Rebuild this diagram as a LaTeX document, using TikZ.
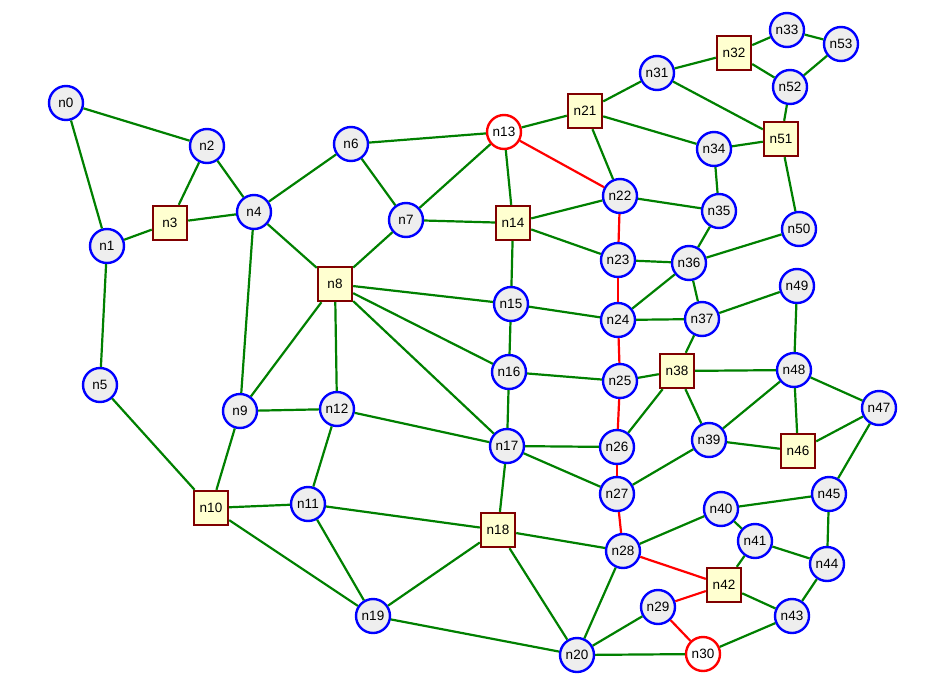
\documentclass[tikz,border=0pt]{standalone}
\usepackage{fontspec}
\setmainfont{Liberation Sans}
\definecolor{cfill}{HTML}{EEEEEE}
\definecolor{sfill}{HTML}{FFFFD0}
\definecolor{sdraw}{HTML}{800000}
\definecolor{egreen}{HTML}{008000}
\definecolor{ered}{HTML}{FF0000}
\definecolor{cblue}{HTML}{0000FF}
\begin{document}
\begin{tikzpicture}[x=1pt,y=-1pt,
  cnode/.style={circle,draw=cblue,fill=cfill,line width=2.4pt,minimum size=34pt,inner sep=0pt,font=\fontsize{13.5}{14}\selectfont},
  rnode/.style={circle,draw=ered,fill=white,line width=2.4pt,minimum size=34pt,inner sep=0pt,font=\fontsize{13.5}{14}\selectfont},
  snode/.style={rectangle,draw=sdraw,fill=sfill,line width=2.4pt,minimum size=34pt,inner sep=0pt,font=\fontsize{13.5}{14}\selectfont},
  ge/.style={draw=egreen,line width=2.2pt},
  re/.style={draw=ered,line width=2.2pt}]
\useasboundingbox (0,0) rectangle (932,696);
\node[cnode] (n0) at (66,103) {n0};
\node[cnode] (n1) at (107,246) {n1};
\node[cnode] (n2) at (207,146) {n2};
\node[snode] (n3) at (170,223) {n3};
\node[cnode] (n4) at (254,212) {n4};
\node[cnode] (n5) at (100,385) {n5};
\node[cnode] (n6) at (351,144) {n6};
\node[cnode] (n7) at (406,220) {n7};
\node[snode] (n8) at (335,284) {n8};
\node[cnode] (n9) at (240,411) {n9};
\node[snode] (n10) at (211,508) {n10};
\node[cnode] (n11) at (308,504) {n11};
\node[cnode] (n12) at (337,409) {n12};
\node[rnode] (n13) at (504,132) {n13};
\node[snode] (n14) at (513,223) {n14};
\node[cnode] (n15) at (511,304) {n15};
\node[cnode] (n16) at (509,372) {n16};
\node[cnode] (n17) at (507,446) {n17};
\node[snode] (n18) at (498,530) {n18};
\node[cnode] (n19) at (373,616) {n19};
\node[cnode] (n20) at (577,655) {n20};
\node[snode] (n21) at (585,111) {n21};
\node[cnode] (n22) at (620,196) {n22};
\node[cnode] (n23) at (618,260) {n23};
\node[cnode] (n24) at (618,320) {n24};
\node[cnode] (n25) at (620,381) {n25};
\node[cnode] (n26) at (617,447) {n26};
\node[cnode] (n27) at (617,494) {n27};
\node[cnode] (n28) at (623,551) {n28};
\node[cnode] (n29) at (658,607) {n29};
\node[rnode] (n30) at (703,654) {n30};
\node[cnode] (n31) at (657,73) {n31};
\node[snode] (n32) at (734,53) {n32};
\node[cnode] (n33) at (787,30) {n33};
\node[cnode] (n34) at (714,149) {n34};
\node[cnode] (n35) at (719,211) {n35};
\node[cnode] (n36) at (689,263) {n36};
\node[cnode] (n37) at (702,319) {n37};
\node[snode] (n38) at (677,371) {n38};
\node[cnode] (n39) at (709,440) {n39};
\node[cnode] (n40) at (721,509) {n40};
\node[cnode] (n41) at (755,541) {n41};
\node[snode] (n42) at (724,585) {n42};
\node[cnode] (n43) at (792,616) {n43};
\node[cnode] (n44) at (827,564) {n44};
\node[cnode] (n45) at (829,494) {n45};
\node[snode] (n46) at (798,451) {n46};
\node[cnode] (n47) at (879,408) {n47};
\node[cnode] (n48) at (794,370) {n48};
\node[cnode] (n49) at (797,286) {n49};
\node[cnode] (n50) at (799,229) {n50};
\node[snode] (n51) at (781,139) {n51};
\node[cnode] (n52) at (790,87) {n52};
\node[cnode] (n53) at (841,44) {n53};
\foreach \a/\b in {n0/n2,n0/n1,n1/n3,n1/n5,n2/n3,n2/n4,n3/n4,n4/n6,n4/n8,n4/n9,n5/n10,
  n6/n13,n6/n7,n7/n13,n7/n14,n7/n8,n8/n15,n8/n16,n8/n17,n8/n12,n8/n9,n9/n12,n9/n10,
  n10/n11,n10/n19,n11/n12,n11/n18,n11/n19,n12/n17,n13/n21,n13/n14,n14/n22,n14/n23,
  n14/n15,n15/n16,n15/n24,n16/n17,n16/n25,n17/n18,n17/n26,n17/n27,n18/n19,n18/n28,
  n18/n20,n19/n20,n20/n28,n20/n29,n20/n30,n21/n31,n21/n22,n21/n34,n22/n35,n23/n36,
  n24/n36,n24/n37,n25/n38,n26/n38,n27/n39,n28/n40,n30/n43,n31/n32,n31/n51,n32/n33,
  n32/n52,n33/n53,n52/n53,n52/n51,n34/n51,n34/n35,n35/n36,n36/n50,n36/n37,n37/n49,
  n37/n38,n38/n48,n38/n39,n39/n46,n39/n48,n48/n49,n48/n46,n48/n47,n46/n47,n47/n45,
  n45/n40,n45/n44,n40/n41,n41/n44,n41/n42,n42/n43,n43/n44,n50/n51}
  \draw[ge] (\a) -- (\b);
\foreach \a/\b in {n13/n22,n22/n23,n23/n24,n24/n25,n25/n26,n26/n27,n27/n28,n28/n42,n29/n42,n29/n30}
  \draw[re] (\a) -- (\b);
\end{tikzpicture}
\end{document}
